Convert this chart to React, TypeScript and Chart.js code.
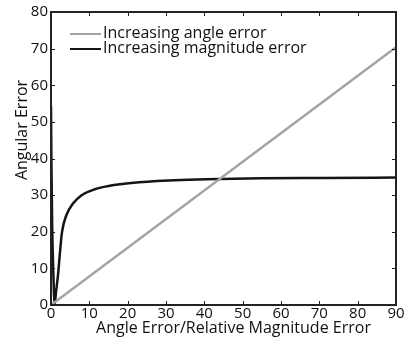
import React, { useEffect, useRef } from "react";
import { Chart, registerables } from "chart.js";
Chart.register(...registerables);

const angleX = [0, 90];
const angleY = [0, 70.4];
const magX = [0, 0.1, 0.3, 0.6, 0.96, 1.3, 1.83, 2.35, 2.87, 4, 5.74, 7.9, 11.4, 15, 18, 23, 34, 44, 55, 70, 90];
const magY = [54.5, 40, 22, 9, 0.3, 3.5, 8.2, 14.5, 19.9, 24.5, 27.7, 29.9, 31.6, 32.5, 33.0, 33.5, 34.1, 34.4, 34.6, 34.7, 34.8];
const seriesLabels = ["Increasing angle error", "Increasing magnitude error"];
const seriesColors = ["#a3a3a3", "#151515"];
const xTitle = "Angle Error/Relative Magnitude Error";
const yTitle = "Angular Error";
const xMin = 0, xMax = 90, xStep = 10;
const yMin = 0, yMax = 80, yStep = 10;

const FONT = "'Open Sans', sans-serif";

const boxPlugin = {
  id: "boxPlugin",
  afterDraw(chart: any) {
    const ctx = chart.ctx;
    const { left, right, top, bottom } = chart.chartArea;
    const xs = chart.scales.x;
    const ys = chart.scales.y;
    ctx.save();
    ctx.strokeStyle = "#1a1a1a";
    ctx.lineWidth = 1;
    const tl = 4;
    for (let v = xMin; v <= xMax; v += xStep) {
      const px = Math.round(xs.getPixelForValue(v)) + 0.5;
      ctx.beginPath();
      ctx.moveTo(px, bottom);
      ctx.lineTo(px, bottom - tl);
      ctx.moveTo(px, top);
      ctx.lineTo(px, top + tl);
      ctx.stroke();
    }
    for (let v = yMin; v <= yMax; v += yStep) {
      const py = Math.round(ys.getPixelForValue(v)) + 0.5;
      ctx.beginPath();
      ctx.moveTo(left, py);
      ctx.lineTo(left + tl, py);
      ctx.moveTo(right, py);
      ctx.lineTo(right - tl, py);
      ctx.stroke();
    }
    ctx.lineWidth = 2;
    ctx.strokeStyle = "#222";
    ctx.strokeRect(left, top, right - left, bottom - top);
    // legend
    ctx.font = `16px ${FONT}`;
    ctx.textBaseline = "middle";
    ctx.textAlign = "left";
    chart.data.datasets.forEach((ds: any, i: number) => {
      const y = top + 21 + i * 15;
      ctx.strokeStyle = ds.borderColor;
      ctx.lineWidth = 2;
      ctx.beginPath();
      ctx.moveTo(left + 19, y + 1);
      ctx.lineTo(left + 50, y + 1);
      ctx.stroke();
      ctx.fillStyle = "#111";
      ctx.fillText(ds.label, left + 52, y);
    });
    // titles
    ctx.fillStyle = "#111";
    ctx.font = `16px ${FONT}`;
    ctx.textAlign = "center";
    ctx.textBaseline = "alphabetic";
    ctx.fillText(xTitle, (left + right) / 2 + 10, bottom + 28);
    ctx.translate(27, top + 118);
    ctx.rotate(-Math.PI / 2);
    ctx.fillText(yTitle, 0, 0);
    ctx.restore();
  },
};

export default function App() {
  const ref = useRef<HTMLCanvasElement>(null);
  useEffect(() => {
    const chart = new Chart(ref.current!, {
      type: "scatter",
      data: {
        datasets: [
          {
            label: seriesLabels[0],
            data: angleX.map((x, i) => ({ x, y: angleY[i] })),
            borderColor: seriesColors[0],
            backgroundColor: seriesColors[0],
            showLine: true,
            borderWidth: 2.5,
            pointRadius: 0,
          },
          {
            label: seriesLabels[1],
            data: magX.map((x, i) => ({ x, y: magY[i] })),
            borderColor: seriesColors[1],
            backgroundColor: seriesColors[1],
            showLine: true,
            borderWidth: 2.5,
            pointRadius: 0,
            cubicInterpolationMode: "monotone",
          },
        ],
      },
      options: {
        animation: false,
        responsive: false,
        maintainAspectRatio: false,
        layout: { padding: { top: 11, right: 14, left: 0, bottom: 0 } },
        plugins: { legend: { display: false }, tooltip: { enabled: false } },
        scales: {
          x: {
            type: "linear",
            min: xMin,
            max: xMax,
            ticks: { stepSize: xStep, font: { size: 15, family: FONT }, color: "#111", padding: 0, maxRotation: 0 },
            grid: { display: false, drawTicks: false },
            border: { display: false },
            afterFit: (s: any) => { s.height = 37; },
          },
          y: {
            type: "linear",
            min: yMin,
            max: yMax,
            ticks: { stepSize: yStep, font: { size: 15, family: FONT }, color: "#111", padding: 3 },
            grid: { display: false, drawTicks: false },
            border: { display: false },
            afterFit: (s: any) => { s.width = 51; },
          },
        },
      },
      plugins: [boxPlugin],
    } as any);
    return () => chart.destroy();
  }, []);
  return (
    <div style={{ position: "absolute", left: 0, top: 0, width: 410, height: 342, background: "#fff" }}>
      <canvas ref={ref} width={410} height={342} />
    </div>
  );
}
